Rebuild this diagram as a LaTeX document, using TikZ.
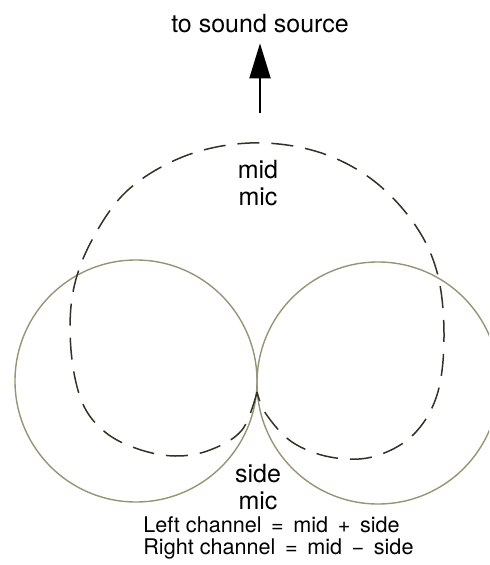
\documentclass[tikz,border=0pt]{standalone}
\usepackage{fontspec}
\setmainfont{TeX Gyre Heros}
\usetikzlibrary{arrows.meta}
\definecolor{circgray}{RGB}{150,148,118}
\definecolor{dashgray}{RGB}{50,50,38}

\begin{document}
\begin{tikzpicture}[x=0.5pt, y=-0.5pt,
  every node/.style={font=\fontsize{12.5}{13.5}\selectfont, align=center},
  lobe/.style={draw=circgray, line width=0.7pt},
  midpat/.style={draw=dashgray, line width=0.75pt, dash pattern=on 11pt off 6pt},
  arr/.style={-{Triangle[length=17.5pt, width=10.5pt]}, line width=1pt, shorten >=1.5pt},
  eq/.style={font=\fontsize{10.8}{11}\selectfont, align=left, anchor=north west, inner sep=0pt}]
\useasboundingbox (0,0) rectangle (489,565);
\clip (0,0) rectangle (489,565);
\coordinate (lc) at (136,381);
\coordinate (rc) at (378,383);
\draw[lobe] (lc) circle (121);
\draw[lobe] (rc) circle (121);
\draw[midpat] plot[smooth, tension=0.6] coordinates {(257,392) (242,430) (210,450)
  (175,456) (138,449) (105,432) (82,402) (71,350) (73,292) (92,240) (128,190)
  (185,156) (250,143) (315,151) (370,178) (413,222) (437,272) (444,335) (437,395)
  (412,436) (372,457) (330,457) (292,442) (266,414) (257,392)};
\node (src) at (260,24) {to sound source};
\coordinate (tail) at (260,113);
\draw[arr] (tail) -- (src);
\node (mid) at (258,183) {mid\\mic};
\node (side) at (258,487) {side\\mic};
\node[eq] (chan) at (143,516) {Left channel \,=\, mid \,+\, side\\
  Right channel \,=\, mid \,−\, side};
\end{tikzpicture}
\end{document}
